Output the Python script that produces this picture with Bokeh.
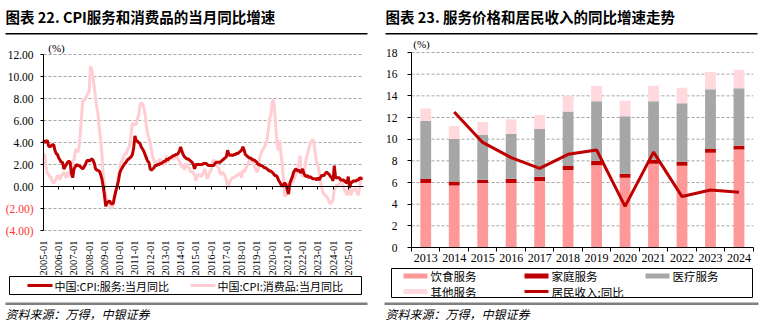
import math
import numpy as np
import pandas as pd
from bokeh.plotting import figure
from bokeh.layouts import row
from bokeh.models import (Range1d, LinearAxis, FixedTicker, Label, LabelSet,
                          BoxAnnotation, ColumnDataSource)
from bokeh.core.properties import value
from bokeh.embed import file_html
from bokeh.resources import INLINE

# ---------------- Chart 22 data: monthly YoY (%), 2005-01 .. 2025-12 ----------------
first_month = "2005-01"
cpi_services = [
    4.2, 4.0, 4.1, 4.2, 3.7, 3.6, 3.7, 3.8, 3.8, 3.3, 3.0, 2.9,      # 2005
    2.6, 2.4, 2.2, 2.2, 1.6, 1.8, 2.0, 2.2, 2.3, 2.2, 1.2, 0.8,      # 2006
    1.6, 1.8, 2.0, 1.9, 1.9, 1.8, 1.7, 1.6, 1.8, 2.0, 2.3, 2.4,      # 2007
    2.3, 2.4, 2.5, 2.4, 2.1, 1.6, 1.5, 1.45, 1.4, 1.1, 0.7, 0.0,     # 2008
    -0.8, -1.8, -1.5, -1.4, -1.3, -1.5, -1.6, -1.5, -0.9, -0.4, 0.0, 0.5,  # 2009
    1.2, 1.5, 1.7, 1.9, 2.1, 2.2, 2.4, 2.5, 2.6, 2.7, 2.9, 3.5,      # 2010
    4.6, 4.2, 4.1, 4.0, 3.9, 3.6, 3.4, 3.2, 2.9, 2.6, 2.3, 2.2,      # 2011
    1.6, 1.5, 1.6, 1.7, 1.9, 1.9, 2.0, 2.0, 2.1, 2.1, 2.2, 2.3,      # 2012
    2.3, 2.5, 2.4, 2.6, 2.6, 2.7, 2.8, 2.8, 2.9, 2.9, 3.0, 3.2,      # 2013
    3.6, 3.2, 2.9, 2.7, 2.6, 2.5, 2.5, 2.4, 2.3, 2.2, 2.0, 1.6,      # 2014
    2.0, 2.0, 2.0, 2.0, 2.0, 2.0, 2.1, 2.1, 2.1, 2.0, 1.9, 1.9,      # 2015
    1.9, 1.9, 1.9, 2.1, 2.2, 2.2, 2.2, 2.2, 2.3, 2.4, 2.5, 2.6,      # 2016
    2.7, 3.3, 2.9, 2.8, 2.9, 2.8, 2.9, 2.9, 3.0, 3.0, 3.1, 3.2,      # 2017
    3.3, 3.6, 3.3, 2.9, 2.8, 2.7, 2.6, 2.6, 2.5, 2.4, 2.4, 2.3,      # 2018
    2.2, 2.0, 2.0, 1.9, 1.9, 1.8, 1.7, 1.7, 1.6, 1.5, 1.4, 1.4,      # 2019
    1.3, 1.2, 1.0, 1.0, 0.9, 0.6, 0.4, 0.2, 0.0, 0.2, 0.3, 0.2,      # 2020
    -0.3, -0.7, 0.3, 0.6, 0.9, 1.3, 1.5, 1.6, 1.4, 1.5, 1.3, 1.3,    # 2021
    1.6, 1.2, 1.0, 0.9, 1.0, 0.8, 0.9, 0.8, 0.7, 0.7, 0.7, 0.6,      # 2022
    0.8, 0.6, 0.8, 1.0, 1.0, 1.0, 1.2, 1.3, 1.2, 1.1, 0.9, 0.8,      # 2023
    0.5, 1.9, 0.8, 0.8, 0.8, 0.8, 0.6, 0.6, 0.6, 0.5, 0.4, 0.3,      # 2024
    0.9, -0.1, 0.3, 0.4, 0.5, 0.5, 0.5, 0.6, 0.6, 0.8, 0.7, 0.8,     # 2025
]
cpi_goods = [
    2.0, 3.0, 1.8, 1.2, 1.1, 0.9, 0.8, 0.5, 0.3, 0.5, 0.7, 1.0,      # 2005
    0.9, 0.6, 1.0, 1.1, 1.3, 1.0, 0.8, 1.3, 1.2, 1.0, 1.6, 2.3,      # 2006
    2.4, 3.2, 3.4, 3.1, 3.6, 4.8, 6.5, 7.9, 7.8, 8.0, 8.2, 8.5,      # 2007
    8.6, 10.9, 10.6, 10.0, 9.0, 8.0, 7.2, 6.5, 5.2, 4.3, 3.0, 1.0,   # 2008
    0.2, -1.0, -1.2, -1.5, -1.7, -1.9, -2.0, -1.6, -0.9, -0.4, 0.3, 1.0,  # 2009
    1.5, 2.2, 2.4, 2.7, 3.0, 2.9, 3.3, 3.5, 3.9, 4.8, 5.8, 5.6,      # 2010
    5.7, 5.6, 6.2, 6.5, 7.4, 7.6, 7.5, 7.2, 6.6, 5.5, 4.8, 4.4,      # 2011
    4.0, 3.3, 2.7, 2.4, 2.0, 2.2, 2.3, 2.4, 2.5, 2.2, 2.0, 2.1,      # 2012
    2.0, 2.8, 2.2, 2.4, 2.6, 2.7, 2.6, 2.5, 2.8, 2.7, 2.5, 2.3,      # 2013
    2.1, 1.7, 2.0, 1.5, 2.1, 1.9, 1.8, 1.6, 1.3, 1.4, 1.2, 1.1,      # 2014
    0.5, 1.0, 1.0, 1.1, 0.9, 1.0, 1.3, 1.6, 1.2, 0.7, 1.0, 1.3,      # 2015
    1.5, 2.2, 2.4, 2.3, 2.0, 1.8, 1.7, 1.2, 1.1, 1.3, 1.2, 0.9,      # 2016
    0.6, -0.1, 0.2, 0.5, 0.7, 0.8, 0.8, 0.9, 1.0, 1.1, 1.0, 1.3,     # 2017
    0.8, 1.5, 1.3, 1.6, 1.8, 2.1, 2.3, 2.5, 2.4, 2.3, 1.9, 1.6,      # 2018
    1.3, 1.5, 2.5, 2.9, 3.2, 3.4, 3.6, 3.9, 4.2, 5.1, 6.2, 6.4,      # 2019
    7.6, 7.9, 7.0, 5.3, 3.9, 3.3, 4.2, 3.0, 2.0, 0.6, -0.9, -0.8,    # 2020
    -0.6, -0.3, 0.0, 0.2, 0.4, 0.6, 0.9, 1.2, 1.7, 2.0, 2.8, 1.3,    # 2021
    0.9, 1.2, 1.8, 2.6, 3.0, 3.5, 3.9, 4.1, 4.3, 3.9, 3.0, 2.2,      # 2022
    2.1, 1.3, 0.6, -0.1, -0.5, -0.7, -0.8, -0.9, -1.1, -1.4, -1.6, -1.4,  # 2023
    -1.2, -0.3, -0.1, 0.2, 0.0, 0.3, 0.5, 0.3, 0.0, -0.3, -0.5, -0.8,     # 2024
    -0.5, 0.2, -0.8, -0.5, -0.3, -0.2, -0.2, -0.6, -0.8, -0.1, 0.6, 0.9,  # 2025
]
label_years = list(range(2005, 2026))
y_ticks_22 = [-4, -2, 0, 2, 4, 6, 8, 10, 12]

# ---------------- Chart 23 data: annual (%) ----------------
bar_years = ["2013", "2014", "2015", "2016", "2017", "2018",
             "2019", "2020", "2021", "2022", "2023", "2024"]
food_services = [5.95, 5.73, 5.95, 5.95, 6.13, 7.15, 7.60, 6.43, 7.72, 7.54, 8.74, 9.05]
household_services = [0.37, 0.37, 0.30, 0.40, 0.41, 0.37, 0.40, 0.37, 0.37, 0.36, 0.36, 0.35]
medical_services = [5.39, 3.92, 4.13, 4.16, 4.40, 5.03, 5.50, 5.32, 5.41, 5.42, 5.50, 5.30]
other_services = [1.11, 1.20, 1.20, 1.33, 1.30, 1.45, 1.40, 1.42, 1.42, 1.42, 1.60, 1.70]
income_yoy = [np.nan, 12.5, 9.7, 8.3, 7.3, 8.6, 9.0, 3.8, 8.8, 4.7, 5.3, 5.1]
y_ticks_23 = [0, 2, 4, 6, 8, 10, 12, 14, 16, 18]

# ---------------- styling ----------------
CJK = "Noto Sans CJK SC"
SERIF = "Liberation Serif"
RED = "#C00000"
PINK = "#FFCDD2"
GRID = "#A6A6A6"
W, H = 380, 336


def mapped_range(d0, d1, p0, p1, total):
    """Range whose value d0 falls at pixel p0 and d1 at pixel p1 on a canvas of `total` px."""
    k = (d1 - d0) / (p1 - p0)
    return Range1d(d0 - p0 * k, d0 + (total - p0) * k)


def helpers(p):
    # the frame is the whole canvas: screen x from left, screen y from bottom
    def text(X, Y, s, size, color="black", font=CJK, style="normal", align="left"):
        p.add_layout(Label(x=X, y=H - Y, x_units="screen", y_units="screen", text=s,
                           text_font=font, text_font_size=f"{size}px", text_color=color,
                           text_font_style=style, text_align=align, text_baseline="middle"))

    def box(X0, Y0, X1, Y1, fill=None, line=None, lw=1):
        p.add_layout(BoxAnnotation(left=X0, right=X1, top=H - Y0, bottom=H - Y1,
                                   left_units="screen", right_units="screen",
                                   top_units="screen", bottom_units="screen",
                                   fill_color=fill if fill else "white",
                                   fill_alpha=1 if fill else 0,
                                   line_color=line if line else "white",
                                   line_alpha=1 if line else 0, line_width=lw))
    return text, box


def base_fig(x_range, y_range):
    p = figure(width=W, height=H, x_range=x_range, y_range=y_range,
               output_backend="svg", toolbar_location=None,
               x_axis_location=None, y_axis_location=None,
               min_border_left=0, min_border_right=0, min_border_top=0, min_border_bottom=0)
    p.outline_line_color = None
    p.background_fill_color = "white"
    p.border_fill_color = "white"
    p.grid.grid_line_color = None
    return p


def style_axis(ax, font_size, standoff, tick_out, line=True):
    ax.axis_line_color = "black" if line else None
    ax.major_tick_line_color = "black" if tick_out else None
    ax.major_tick_out = tick_out
    ax.major_tick_in = 0
    ax.minor_tick_line_color = None
    ax.major_label_standoff = standoff
    ax.major_label_text_font = SERIF
    ax.major_label_text_font_size = font_size
    ax.major_label_text_color = "black"


# ================= Chart 22 =================
x0_22, x1_22 = label_years[0], label_years[-1] + 1
y0_22, y1_22 = y_ticks_22[0], y_ticks_22[-1]
p1 = base_fig(mapped_range(x0_22, x1_22, 43, 363, W),
              mapped_range(y0_22, y1_22, H - 230, H - 54, H))
dates = pd.date_range(first_month, periods=len(cpi_services), freq="MS")
xm = (dates.year + (dates.month - 1) / 12.0).to_numpy()

# dashed horizontal gridlines across the plotting area
p1.segment(x0=x0_22, x1=x1_22, y0=y_ticks_22, y1=y_ticks_22,
           line_color=GRID, line_width=1, line_dash="3 2")

p1.line(xm, cpi_goods, color=PINK, line_width=3)
p1.line(xm, cpi_services, color=RED, line_width=3)

ya = LinearAxis(fixed_location=x0_22, bounds=(y0_22, y1_22), ticker=FixedTicker(ticks=y_ticks_22),
                major_label_overrides={v: (f"{v:.2f}" if v >= 0 else "") for v in y_ticks_22})
style_axis(ya, "11.5px", 7, 3)
p1.add_layout(ya, "left")

xa = LinearAxis(fixed_location=y0_22, ticker=FixedTicker(ticks=label_years),
                major_label_overrides={y: f"{y}-01" for y in label_years},
                major_label_orientation=math.pi / 2)
style_axis(xa, "10.5px", 10, 0, line=False)
p1.add_layout(xa, "below")

zero_axis = LinearAxis(fixed_location=0, bounds=(x0_22, x1_22), ticker=FixedTicker(ticks=label_years),
                       major_label_overrides={y: "" for y in label_years})
style_axis(zero_axis, "10px", 0, 3)
p1.add_layout(zero_axis, "below")

neg = [v for v in y_ticks_22 if v < 0]
neg_src = ColumnDataSource(dict(y=neg, t=[f"({abs(v):.2f})" for v in neg]))
p1.add_layout(LabelSet(x=33, y="y", text="t", source=neg_src, x_units="screen", y_units="data",
                       text_align="right", text_baseline="middle", text_font=value(SERIF),
                       text_font_size="11.5px", text_color="#FF3333"))

t1, b1 = helpers(p1)
t1(5, 15.5, "图表 22. CPI服务和消费品的当月同比增速", 14.5, style="bold")
b1(5, 32.5, 367, 34, fill="black")
t1(56, 47, "(%)", 11, font=SERIF, align="center")
b1(9, 276, 361, 294, line="black", lw=1)
b1(27, 283.5, 52, 286.5, fill=RED)
t1(54, 285, "中国:CPI:服务:当月同比", 11)
b1(190, 283.5, 215, 286.5, fill=PINK)
t1(217, 285, "中国:CPI:消费品:当月同比", 11)
b1(5, 302, 367, 304.5, fill="#7F7F7F")
t1(5, 313, "资料来源：万得，中银证券", 12, style="italic")

# ================= Chart 23 =================
n_bars = len(bar_years)
y0_23, y1_23 = y_ticks_23[0], y_ticks_23[-1]
p2 = base_fig(mapped_range(0, n_bars, 31, W - 7.3, W),
              mapped_range(y0_23, y1_23, H - 247, H - 52, H))
bar_x = np.arange(n_bars) + 0.5          # centre of each year's category slot
src = ColumnDataSource(dict(x=bar_x, food=food_services, household=household_services,
                            medical=medical_services, other=other_services,
                            income=np.array(income_yoy, dtype=float)))

p2.segment(x0=0, x1=n_bars, y0=y_ticks_23[1:], y1=y_ticks_23[1:],
           line_color=GRID, line_width=1, line_dash="3 2")
p2.vbar_stack(["food", "household", "medical", "other"], x="x", width=0.38,
              color=["#FF9999", RED, "#A6A6A6", "#FFD9DE"], line_color=None, source=src)
p2.line(x="x", y="income", source=src, color=RED, line_width=3)

ya2 = LinearAxis(fixed_location=0, bounds=(y0_23, y1_23), ticker=FixedTicker(ticks=y_ticks_23))
style_axis(ya2, "11.5px", 10, 4)
p2.add_layout(ya2, "left")

xa2 = LinearAxis(fixed_location=y0_23, ticker=FixedTicker(ticks=list(bar_x)),
                 major_label_overrides={float(c): y for c, y in zip(bar_x, bar_years)})
style_axis(xa2, "12px", 6, 0, line=False)
p2.add_layout(xa2, "below")

bound_ticks = list(range(n_bars + 1))
bx = LinearAxis(fixed_location=y0_23, bounds=(0, n_bars), ticker=FixedTicker(ticks=bound_ticks),
                major_label_overrides={t: "" for t in bound_ticks})
style_axis(bx, "10px", 0, 4)
p2.add_layout(bx, "below")

t2, b2 = helpers(p2)
t2(5, 15.5, "图表 23. 服务价格和居民收入的同比增速走势", 14.5, style="bold")
b2(5, 32.5, 377, 34, fill="black")
t2(41, 43, "(%)", 11, font=SERIF, align="center")
b2(11, 268, 372, 297, line="black", lw=1)
legend_items = [
    (23, 275.5, "#FF9999", 5, "饮食服务"),
    (144, 275.5, RED, 5, "家庭服务"),
    (265, 275.5, "#A6A6A6", 5, "医疗服务"),
    (23, 291, "#FFD9DE", 5, "其他服务"),
    (144, 291, RED, 3, "居民收入:同比"),
]
for X, Y, c, h, s in legend_items:
    b2(X, Y - h / 2, X + 24, Y + h / 2, fill=c)
    t2(X + 27, Y, s, 11.5)
b2(4, 302, 378, 304.5, fill="#7F7F7F")
t2(5, 313, "资料来源：万得，中银证券", 12, style="italic")

layout = row(p1, p2, spacing=0)
open("out.html", "w").write(file_html(layout, INLINE))
